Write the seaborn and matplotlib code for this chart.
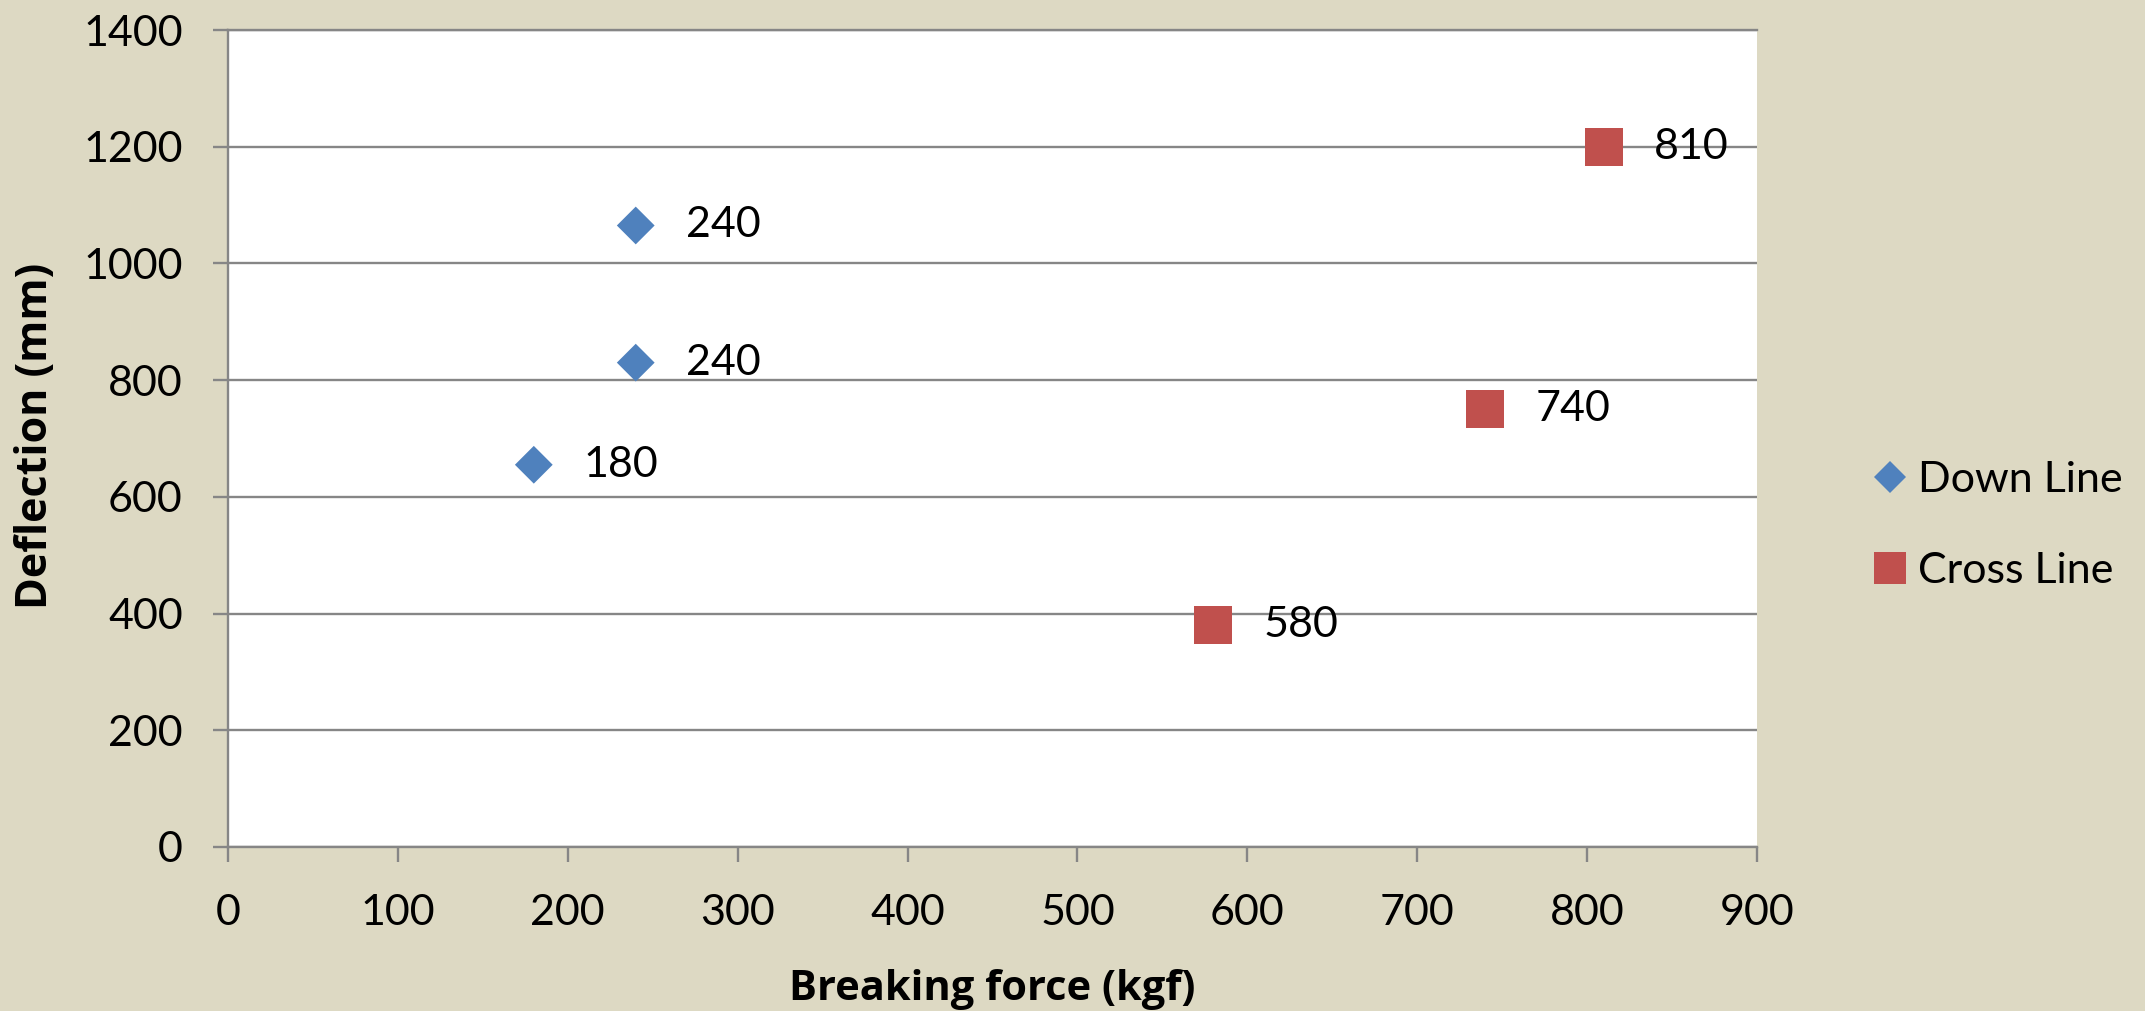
import matplotlib
matplotlib.use("Agg")
import matplotlib.pyplot as plt
import seaborn as sns
import pandas as pd

# Breaking force (kgf) and deflection (mm) per test line
down_force = [180, 240, 240]
down_deflection = [655, 830, 1065]
cross_force = [580, 740, 810]
cross_deflection = [380, 750, 1200]

series_names = ["Down Line", "Cross Line"]
x_ticks = [0, 100, 200, 300, 400, 500, 600, 700, 800, 900]
y_ticks = [0, 200, 400, 600, 800, 1000, 1200, 1400]

df = pd.DataFrame({
    "force": down_force + cross_force,
    "deflection": down_deflection + cross_deflection,
    "series": [series_names[0]] * len(down_force) + [series_names[1]] * len(cross_force),
})

BG = "#DDD9C3"
GRID = "#868686"
palette = {"Down Line": "#4F81BD", "Cross Line": "#C0504D"}
markers = {"Down Line": "D", "Cross Line": "s"}
sizes = {"Down Line": 370, "Cross Line": 740}

sns.set_theme(style="white")
plt.rcParams["font.family"] = ["Lato", "DejaVu Sans"]
plt.rcParams["text.color"] = "black"
plt.rcParams["axes.labelcolor"] = "black"

fig = plt.figure(figsize=(21.45, 10.11), dpi=100, facecolor=BG)
ax = fig.add_axes([228 / 2145, 1 - 847 / 1011, (1757 - 228) / 2145, (847 - 30) / 1011])
ax.set_facecolor("white")

sns.scatterplot(
    data=df, x="force", y="deflection",
    hue="series", style="series", size="series",
    hue_order=series_names, style_order=series_names, size_order=series_names,
    palette=palette, markers=markers, sizes=sizes,
    linewidth=0, edgecolor="none", ax=ax, zorder=3, clip_on=False,
)

# value labels to the right of each point
for xs, ys in ((down_force, down_deflection), (cross_force, cross_deflection)):
    for xv, yv in zip(xs, ys):
        ax.annotate(f"{xv}", (xv, yv), xytext=(36, 0), textcoords="offset points",
                    ha="left", va="center", fontsize=31, color="black", zorder=4)

ax.set_xlim(0, 900)
ax.set_ylim(0, 1400)
ax.set_xticks(x_ticks)
ax.set_yticks(y_ticks)
ax.tick_params(axis="both", which="major", direction="out", length=10.5, width=1.7,
               color=GRID, labelsize=31, labelcolor="black", pad=22)
ax.tick_params(axis="x", pad=23, bottom=True)
ax.tick_params(axis="y", left=True)

ax.yaxis.grid(True, color=GRID, linewidth=1.7)
ax.xaxis.grid(False)
ax.set_axisbelow(True)

for side in ("left", "bottom", "top"):
    ax.spines[side].set_visible(True)
    ax.spines[side].set_color(GRID)
    ax.spines[side].set_linewidth(1.7)
ax.spines["right"].set_visible(False)

ax.set_xlabel("Breaking force (kgf)", fontsize=30, fontweight="bold", va="center",
              family=["Open Sans", "DejaVu Sans"])
ax.xaxis.set_label_coords(0.5, (847 - 989) / 817)
ax.set_ylabel("Deflection (mm)", fontsize=31, fontweight="bold", va="center",
              family=["Open Sans", "DejaVu Sans"])
ax.yaxis.set_label_coords((35 - 228) / 1529, (847 - 436) / 817)

sns.move_legend(
    ax, "center left", bbox_to_anchor=(1868 / 2145, 1 - 525.5 / 1011),
    bbox_transform=fig.transFigure, frameon=False, title=None,
    fontsize=31, handletextpad=0.17, labelspacing=1.25, markerscale=0.87,
    borderaxespad=0, borderpad=0, handlelength=1.0,
)

fig.savefig("out.png", dpi=100, facecolor=BG)
